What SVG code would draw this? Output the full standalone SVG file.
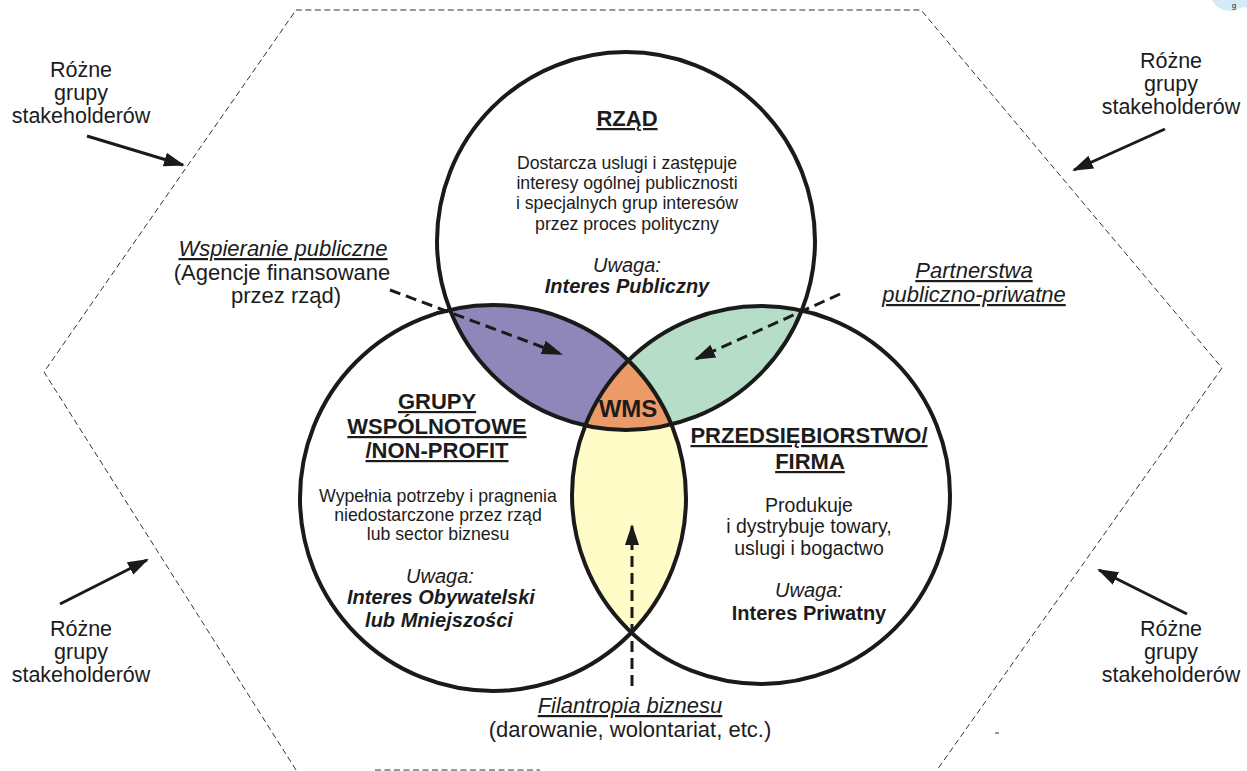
<svg xmlns="http://www.w3.org/2000/svg" width="1247" height="771" viewBox="0 0 1247 771">
  <style>
    text { font-family: "Liberation Sans", Arial, sans-serif; fill: #1c1c1c; text-anchor: middle; }
    .hd { font-size: 22px; font-weight: bold; text-decoration: underline; }
    .b17 { font-size: 17.7px; }
    .b19 { font-size: 19.5px; }
    .uw { font-size: 20px; font-style: italic; }
    .bi { font-size: 20px; font-style: italic; font-weight: bold; }
    .lb { font-size: 22px; }
    .sk { font-size: 21.5px; }
    .lbu { font-size: 22px; font-style: italic; text-decoration: underline; }
    .ring { fill: none; stroke: #1a1a1a; stroke-width: 4; }
    .hex { fill: none; stroke: #333; stroke-width: 1; stroke-dasharray: 6 3.5; }
    .sa { stroke: #1a1a1a; stroke-width: 3; fill: none; marker-end: url(#ah); }
    .da { stroke: #1a1a1a; stroke-width: 3; fill: none; stroke-dasharray: 11 6; marker-end: url(#ah); }
  </style>
  <defs>
    <marker id="ah" markerUnits="userSpaceOnUse" markerWidth="22" markerHeight="16" refX="19" refY="8" orient="auto">
      <path d="M0,1 L21,8 L0,15 z" fill="#1a1a1a"/>
    </marker>
    <clipPath id="cL"><circle cx="493" cy="498" r="193"/></clipPath>
    <clipPath id="cR"><circle cx="761" cy="495" r="189"/></clipPath>
    <clipPath id="cT"><circle cx="626" cy="241" r="189"/></clipPath>
  </defs>
  <rect width="1247" height="771" fill="#ffffff"/>

  <!-- hexagon boundary -->
  <g id="hexagon">
    <polyline class="hex" points="296,770 44,372 296,10 921,10 1222,368 937,770"/>
    <line class="hex" x1="375" y1="770" x2="540" y2="770"/>
  </g>

  <!-- corner artifacts -->
  <g id="artifacts">
    <path d="M1212,0 Q1220,14 1236,10 Q1242,6 1247,8 L1247,0 z" fill="#d4ebf9"/>
    <text x="1234" y="8" style="font-size:8px;">g</text>
    <line x1="995" y1="733" x2="999" y2="733" stroke="#333" stroke-width="1"/>
  </g>

  <!-- circle fills -->
  <g id="fills">
    <circle cx="626" cy="241" r="189" fill="#ffffff"/>
    <circle cx="493" cy="498" r="193" fill="#ffffff"/>
    <circle cx="761" cy="495" r="189" fill="#ffffff"/>
    <g clip-path="url(#cL)"><circle cx="626" cy="241" r="189" fill="#8F86B9"/></g>
    <g clip-path="url(#cR)"><circle cx="626" cy="241" r="189" fill="#B5DDC8"/></g>
    <g clip-path="url(#cR)"><circle cx="493" cy="498" r="193" fill="#FFFCC8"/></g>
    <g clip-path="url(#cR)"><g clip-path="url(#cL)"><circle cx="626" cy="241" r="189" fill="#EC9A68"/></g></g>
  </g>

  <g id="rzad">
    <circle class="ring" cx="626" cy="241" r="189"/>
    <text class="hd" x="627" y="126">RZĄD</text>
    <text class="b17" x="627" y="169">Dostarcza uslugi i zastępuje</text>
    <text class="b17" x="627" y="189">interesy ogólnej publicznosti</text>
    <text class="b17" x="627" y="209">i specjalnych grup interesów</text>
    <text class="b17" x="627" y="230">przez proces polityczny</text>
    <text class="uw" x="627" y="272">Uwaga:</text>
    <text class="bi" x="627" y="293">Interes Publiczny</text>
  </g>

  <g id="grupy">
    <circle class="ring" cx="493" cy="498" r="193"/>
    <text class="hd" x="437" y="409">GRUPY</text>
    <text class="hd" x="437" y="434">WSPÓLNOTOWE</text>
    <text class="hd" x="437" y="458">/NON-PROFIT</text>
    <text class="b17" x="438" y="502">Wypełnia potrzeby i pragnenia</text>
    <text class="b17" x="438" y="521">niedostarczone przez rząd</text>
    <text class="b17" x="438" y="540">lub sector biznesu</text>
    <text class="uw" x="440" y="583">Uwaga:</text>
    <text class="bi" x="441" y="604">Interes Obywatelski</text>
    <text class="bi" x="439" y="627">lub Mniejszości</text>
  </g>

  <g id="firma">
    <circle class="ring" cx="761" cy="495" r="189"/>
    <text class="hd" x="809" y="443">PRZEDSIĘBIORSTWO/</text>
    <text class="hd" x="810" y="469">FIRMA</text>
    <text class="b19" x="809" y="512">Produkuje</text>
    <text class="b19" x="809" y="533">i dystrybuje towary,</text>
    <text class="b19" x="809" y="555">uslugi i bogactwo</text>
    <text class="uw" x="809" y="597">Uwaga:</text>
    <text x="809" y="620" style="font-size:20px;font-weight:bold;">Interes Priwatny</text>
  </g>

  <g id="wms">
    <text x="628" y="417" style="font-size:24px;font-weight:bold;">WMS</text>
  </g>

  <g id="label-wspieranie">
    <text class="lbu" x="283" y="256">Wspieranie publiczne</text>
    <text class="lb" x="282" y="280">(Agencje finansowane</text>
    <text class="lb" x="286" y="303">przez rząd)</text>
  </g>
  <g id="label-partnerstwa">
    <text class="lbu" x="974" y="278">Partnerstwa</text>
    <text class="lbu" x="974" y="302">publiczno-priwatne</text>
  </g>
  <g id="label-filantropia">
    <text class="lbu" x="630" y="713">Filantropia biznesu</text>
    <text class="lb" x="630" y="737">(darowanie, wolontariat, etc.)</text>
  </g>

  <g id="stakeholders-tl">
    <text class="sk" x="81" y="77">Różne</text>
    <text class="sk" x="81" y="100">grupy</text>
    <text class="sk" x="81" y="123">stakeholderów</text>
  </g>
  <g id="stakeholders-tr">
    <text class="sk" x="1171" y="68">Różne</text>
    <text class="sk" x="1171" y="91">grupy</text>
    <text class="sk" x="1171" y="114">stakeholderów</text>
  </g>
  <g id="stakeholders-bl">
    <text class="sk" x="81" y="636">Różne</text>
    <text class="sk" x="81" y="659">grupy</text>
    <text class="sk" x="81" y="682">stakeholderów</text>
  </g>
  <g id="stakeholders-br">
    <text class="sk" x="1171" y="636">Różne</text>
    <text class="sk" x="1171" y="659">grupy</text>
    <text class="sk" x="1171" y="682">stakeholderów</text>
  </g>

  <g id="connectors">
    <line class="sa" x1="87" y1="136" x2="183" y2="165"/>
    <line class="sa" x1="1165" y1="129" x2="1074" y2="170"/>
    <line class="sa" x1="60" y1="604" x2="147" y2="560"/>
    <line class="sa" x1="1187" y1="614" x2="1099" y2="570"/>
    <line class="da" x1="390" y1="290" x2="561" y2="354"/>
    <line class="da" x1="840" y1="294" x2="696" y2="359"/>
    <line class="da" x1="632" y1="686" x2="632" y2="526"/>
  </g>
</svg>
